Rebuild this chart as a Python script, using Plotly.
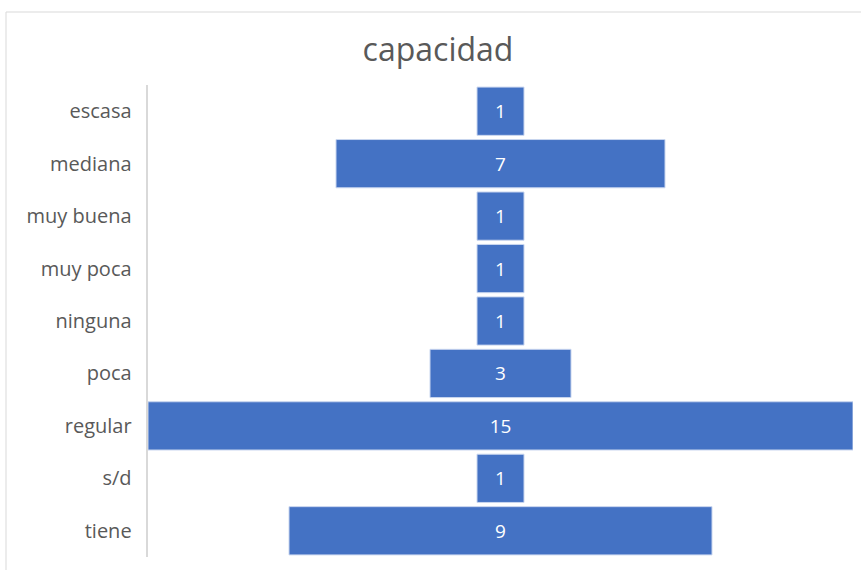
import plotly.graph_objects as go

categories = ["escasa", "mediana", "muy buena", "muy poca", "ninguna", "poca", "regular", "s/d", "tiene"]
values = [1, 7, 1, 1, 1, 3, 15, 1, 9]

L, R, T, B = 148, 8, 85, 13
W, H = 861, 570
pw, ph = W - L - R, H - T - B

fig = go.Figure(go.Funnel(
    y=categories,
    x=values,
    textinfo="value",
    textposition="inside",
    insidetextanchor="middle",
    constraintext="none",
    textfont=dict(color="white", size=19, family="Open Sans"),
    marker=dict(color="#4472C4", line=dict(color="#c9d6ef", width=1)),
    connector=dict(visible=False),
    hoverinfo="skip",
))

fig.update_layout(
    width=W, height=H,
    margin=dict(l=L, r=R, t=T, b=B, autoexpand=False),
    paper_bgcolor="white", plot_bgcolor="white",
    title=dict(text="capacidad", x=438 / W, xanchor="center", y=1 - 50 / H, yanchor="middle",
               font=dict(size=32, color="#595959", family="Open Sans")),
    funnelgap=0.08,
    showlegend=False,
    xaxis=dict(visible=False, range=[-7.5, 7.5]),
    yaxis=dict(showline=True, linecolor="#d9d9d9", linewidth=2, ticks="", ticklen=0,
               automargin=False,
               tickfont=dict(size=20, color="#595959", family="Open Sans"),
               ticksuffix="  "),
    shapes=[dict(type="rect", xref="paper", yref="paper",
                 x0=(6 - L) / pw, x1=(W + 10 - L) / pw,
                 y0=(H - B - (H + 10)) / ph, y1=(H - B - 12) / ph,
                 line=dict(color="#d9d9d9", width=1), layer="below")],
)

fig.write_html("out.html", config={"displayModeBar": False},
               post_script="document.body.style.margin='0';")
